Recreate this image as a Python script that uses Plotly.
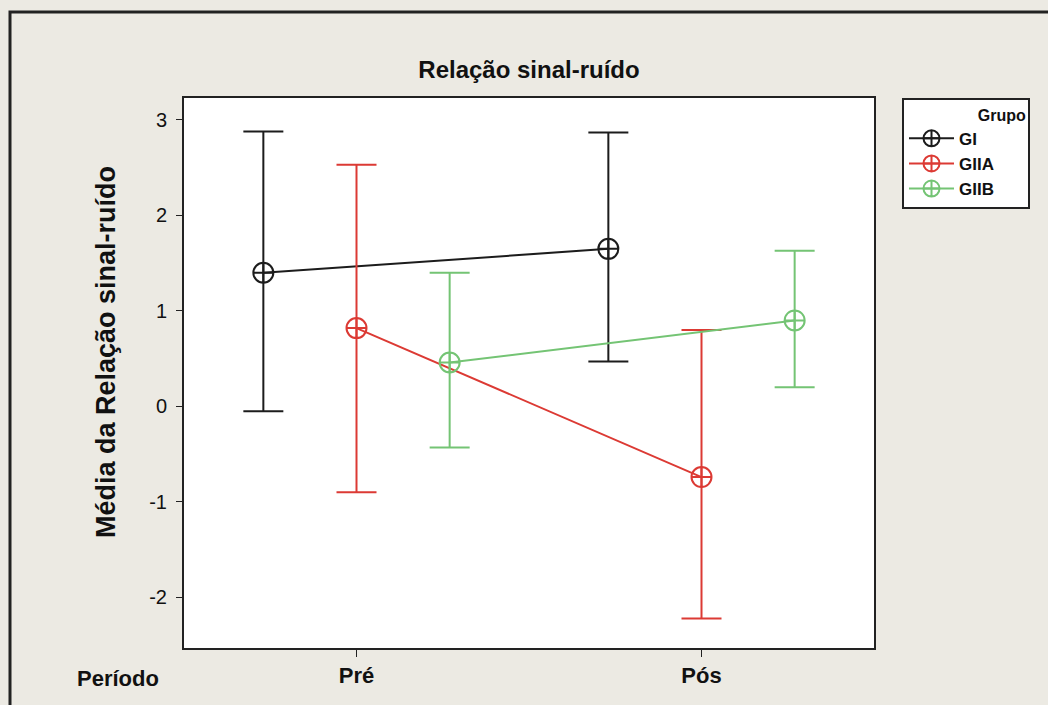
import plotly.graph_objects as go

# data
periodos = ['Pré', 'Pós']
grupos = ['GI', 'GIIA', 'GIIB']
medias = {
    'GI': [1.40, 1.65],
    'GIIA': [0.82, -0.74],
    'GIIB': [0.46, 0.90],
}
sup = {
    'GI': [2.88, 2.87],
    'GIIA': [2.53, 0.80],
    'GIIB': [1.40, 1.63],
}
inf = {
    'GI': [-0.05, 0.47],
    'GIIA': [-0.90, -2.22],
    'GIIB': [-0.43, 0.20],
}
cores = {'GI': '#1c1c1c', 'GIIA': '#dc3a34', 'GIIB': '#74c474'}
deslocamento = {'GI': -0.27, 'GIIA': 0.0, 'GIIB': 0.27}

fonte = 'Liberation Sans Narrow, Arial Narrow, Liberation Sans, Arial'

fig = go.Figure()

for g in grupos:
    x = [i + deslocamento[g] for i in range(len(periodos))]
    y = medias[g]
    fig.add_trace(go.Scatter(
        x=x, y=y, name='<b>' + g + '</b>&nbsp;&nbsp;&nbsp;&nbsp;&nbsp;&nbsp;', mode='lines+markers',
        line=dict(color=cores[g], width=2),
        marker=dict(symbol='circle-cross-open', size=20, color=cores[g],
                    line=dict(width=2, color=cores[g])),
        error_y=dict(type='data', symmetric=False,
                     array=[s - m for s, m in zip(sup[g], y)],
                     arrayminus=[m - i for m, i in zip(y, inf[g])],
                     color=cores[g], thickness=2, width=20),
    ))

# outer frame (plot area is 690 x 550 px)
fig.add_shape(type='rect', xref='paper', yref='paper',
              x0=(10 - 184) / 690, x1=1.5, y0=-0.5, y1=1 + (98 - 12) / 550,
              line=dict(color='#222222', width=3), fillcolor='rgba(0,0,0,0)', layer='below')

fig.add_annotation(text='<b>Período</b>', xref='paper', yref='paper',
                   x=(118 - 184) / 690, y=-30 / 550, showarrow=False, xanchor='center', yanchor='middle',
                   font=dict(family=fonte, size=22, color='#111111'))

# y axis title, placed a bit above the centre as in the reference
fig.add_annotation(text='<b>Média da Relação sinal-ruído</b>', xref='paper', yref='paper',
                   x=(106 - 184) / 690, y=(648 - 352) / 550, showarrow=False, textangle=-90,
                   xanchor='center', yanchor='middle',
                   font=dict(family='Liberation Sans, Arial', size=27, color='#111111'))

fig.update_layout(
    width=1048, height=705,
    paper_bgcolor='#ECEAE3', plot_bgcolor='white',
    margin=dict(l=184, r=174, t=98, b=57),
    title=dict(text='<b>Relação sinal-ruído</b>', x=0.5, xref='paper', y=1 - 70 / 705, yref='container',
               xanchor='center', yanchor='middle',
               font=dict(family=fonte, size=24, color='#111111')),
    showlegend=True,
    legend=dict(x=(902 - 184) / 690, y=1, xanchor='left', yanchor='top',
                bgcolor='white', bordercolor='#222222', borderwidth=2,
                title=dict(text='<b>Grupo</b>', side='top right',
                           font=dict(family='Liberation Sans, Arial', size=16, color='#111111')),
                font=dict(family='Liberation Sans, Arial', size=17, color='#111111'),
                itemwidth=45, tracegroupgap=0),
)

fig.update_xaxes(range=[-0.5, 1.5], tickvals=[0, 1],
                 ticktext=['<b>' + p + '</b>' for p in periodos],
                 showgrid=False, zeroline=False,
                 showline=True, linecolor='#222222', linewidth=2, mirror=True,
                 ticks='outside', ticklen=7, tickcolor='#222222',
                 tickfont=dict(family=fonte, size=22, color='#111111'))

fig.update_yaxes(range=[-2.53, 3.23], tickvals=[-2, -1, 0, 1, 2, 3],
                 ticktext=['-2', '-1', '0', '1', '2', '3'],
                 showgrid=False, zeroline=False,
                 showline=True, linecolor='#222222', linewidth=2, mirror=True,
                 ticks='outside', ticklen=6, tickcolor='#222222', ticklabelstandoff=5,
                 tickfont=dict(family='Liberation Sans, Arial', size=20, color='#111111'))

fig.write_html('out.html', config={'displayModeBar': False},
               post_script="document.body.style.margin='0';")
